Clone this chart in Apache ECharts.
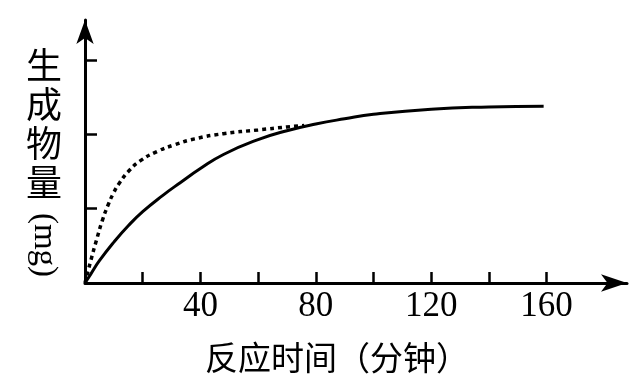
<!DOCTYPE html>
<html>
<head>
<meta charset="utf-8">
<script src="https://cdn.jsdelivr.net/npm/echarts@6/dist/echarts.min.js"></script>
<style>
  html, body { margin: 0; padding: 0; background: #ffffff; }
  #chart { width: 642px; height: 391px; }
</style>
</head>
<body>
<div id="chart"></div>
<script>
// Solid curve (reaction time in minutes, product amount)
var solidTime  = [0, 2, 5, 10, 15, 20, 27, 33, 40, 48, 60, 70, 80, 90, 100, 120, 140, 159];
var solidValue = [0, 0.12, 0.30, 0.55, 0.77, 0.96, 1.18, 1.35, 1.54, 1.73, 1.93, 2.05, 2.14, 2.21, 2.27, 2.34, 2.37, 2.38];
// Dotted curve
var dottedTime  = [0, 2, 4, 6, 8, 10, 12, 15, 19, 25, 31, 38, 48, 60, 70, 76];
var dottedValue = [0, 0.30, 0.58, 0.84, 1.05, 1.22, 1.35, 1.50, 1.64, 1.77, 1.86, 1.94, 2.01, 2.06, 2.10, 2.12];
// Axis ticks and labels
var xTicks = [20, 40, 60, 80, 100, 120, 140, 160];
var xLabels = [40, 80, 120, 160];
var yTicks = [1, 2, 3];
var xAxisTitle = '反应时间（分钟）';
var yAxisTitle = '生成物量';
var yAxisUnit = '(mg)';

function pairs(xs, ys) { return xs.map(function (x, i) { return [x, ys[i]]; }); }

var chart = echarts.init(document.getElementById('chart'), null, { renderer: 'canvas' });
chart.setOption({
  backgroundColor: '#ffffff',
  animation: false,
  grid: { left: 85, top: 20, right: 15, bottom: 108, containLabel: false },
  xAxis: {
    type: 'value', min: 0, max: 187.9,
    axisLine: { show: true, symbol: ['none', 'arrow'], symbolSize: [13, 26], lineStyle: { color: '#000', width: 3 } },
    axisTick: { show: true, inside: true, length: 11, customValues: xTicks, lineStyle: { color: '#000', width: 2.5 } },
    axisLabel: { show: true, customValues: xLabels, margin: 6, color: '#000', fontFamily: 'Liberation Serif', fontSize: 35 },
    splitLine: { show: false }
  },
  yAxis: {
    type: 'value', min: 0, max: 3.54,
    axisLine: { show: true, symbol: ['none', 'arrow'], symbolSize: [13, 24], lineStyle: { color: '#000', width: 3 } },
    axisTick: { show: true, inside: true, length: 12, customValues: yTicks, lineStyle: { color: '#000', width: 2.5 } },
    axisLabel: { show: false },
    splitLine: { show: false }
  },
  graphic: [
    { type: 'text', left: 26, top: 46, style: { text: yAxisTitle.split('').join('\n'), font: '36px "Noto Sans CJK SC"', lineHeight: 39, fill: '#000', align: 'left' } },
    { type: 'text', x: 44, y: 245, rotation: -Math.PI / 2, style: { text: yAxisUnit, font: '33px "Liberation Serif"', fill: '#000', align: 'center', verticalAlign: 'middle' } },
    { type: 'text', x: 337, y: 357, style: { text: xAxisTitle, font: '33px "Noto Sans CJK SC"', fill: '#000', align: 'center', verticalAlign: 'middle' } }
  ],
  series: [
    { type: 'line', data: pairs(solidTime, solidValue), smooth: 0.5, showSymbol: false, lineStyle: { color: '#000', width: 3 } },
    { type: 'line', data: pairs(dottedTime, dottedValue), smooth: 0.5, showSymbol: false, lineStyle: { color: '#000', width: 3.5, type: [4, 4] } }
  ]
});
</script>
</body>
</html>
